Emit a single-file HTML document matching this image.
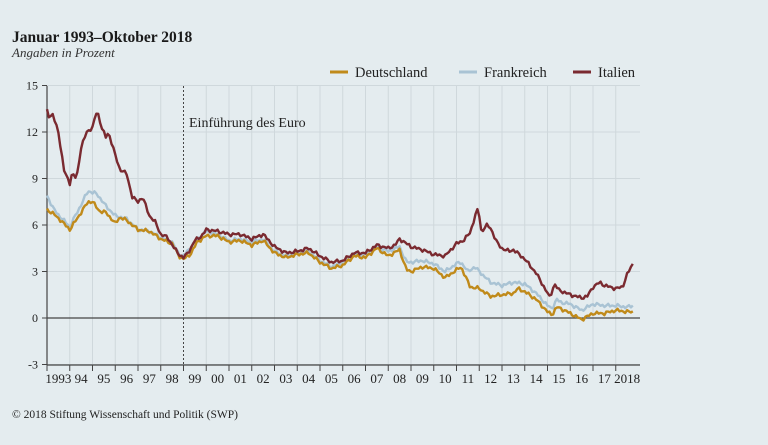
<!DOCTYPE html>
<html><head><meta charset="utf-8"><style>
html,body{margin:0;padding:0;background:#e4ecef;}
svg{display:block;font-family:"Liberation Serif",serif;}
</style></head><body>
<svg id="c" width="768" height="445" viewBox="0 0 768 445">
<rect width="768" height="445" fill="#e4ecef"/>
<text x="12" y="42" font-size="15.5" font-weight="bold" fill="#1a1a1a">Januar 1993–Oktober 2018</text>
<text x="12" y="57" font-size="13" font-style="italic" fill="#333">Angaben in Prozent</text>
<g font-size="14.5" fill="#222">
<line x1="330" y1="72" x2="348" y2="72" stroke="#c08a1a" stroke-width="3"/><text x="355" y="77">Deutschland</text>
<line x1="459" y1="72" x2="477" y2="72" stroke="#a9c3d4" stroke-width="3"/><text x="484" y="77">Frankreich</text>
<line x1="573" y1="72" x2="591" y2="72" stroke="#7a2a30" stroke-width="3"/><text x="598" y="77">Italien</text>
</g>
<g id="grid"></g>
<g id="series" fill="none" stroke-width="2.4" stroke-linejoin="round"></g>
<text x="189" y="127" font-size="14" fill="#222">Einführung des Euro</text>
<text x="12" y="418" font-size="11.5" fill="#222">© 2018 Stiftung Wissenschaft und Politik (SWP)</text>
</svg>
<script>
var NS="http://www.w3.org/2000/svg";
var X0=47,PX=22.75,Y0=318,PY=15.5;
function X(t){return X0+(t-1993)*PX;}function Y(v){return Y0-v*PY;}
function el(p,tag,a,txt){var e=document.createElementNS(NS,tag);for(var k in a)e.setAttribute(k,a[k]);if(txt!=null)e.textContent=txt;p.appendChild(e);return e;}
var g=document.getElementById('grid');
for(var y=1994;y<=2018;y++){el(g,'line',{x1:X(y),y1:86,x2:X(y),y2:365,stroke:y==1999?'none':'#cfd8dc','stroke-width':1});}
for(var v=-3;v<=15;v+=3){el(g,'line',{x1:X0,y1:Y(v),x2:640,y2:Y(v),stroke:v==0?'#444':'#cfd8dc','stroke-width':v==0?1.2:1});
el(g,'line',{x1:X0-5,y1:Y(v),x2:X0,y2:Y(v),stroke:'#444'});
el(g,'text',{x:X0-9,y:Y(v)+4,'text-anchor':'end','font-size':12,fill:'#222'},v);}
el(g,'line',{x1:X(1999),y1:86,x2:X(1999),y2:365,stroke:'#444','stroke-dasharray':'2,2'});
el(g,'line',{x1:X0,y1:86,x2:X0,y2:365,stroke:'#444','stroke-width':1.2});
el(g,'line',{x1:X0,y1:365,x2:640,y2:365,stroke:'#444','stroke-width':1.2});
var labs=['1993','94','95','96','97','98','99','00','01','02','03','04','05','06','07','08','09','10','11','12','13','14','15','16','17','2018'];
for(var i=0;i<=25;i++){var xx=X(1993+i);el(g,'line',{x1:xx,y1:365,x2:xx,y2:371,stroke:'#444'});
el(g,'text',{x:xx+PX/2,y:383,'text-anchor':'middle','font-size':13,fill:'#222'},labs[i]);}
var D={
it:[93.0,13.4,93.1,13.0,93.25,13.1,93.5,12,93.75,9.5,94.0,8.7,94.1,9.3,94.3,9.0,94.5,11,94.75,12,95.0,12.3,95.2,13.4,95.4,12.3,95.6,11.6,95.7,12,96.0,10.5,96.2,9.6,96.5,9.3,96.75,7.8,97.0,7.5,97.2,7.8,97.5,6.6,97.75,6.2,98.0,5.4,98.3,5.2,98.6,4.5,98.8,4.1,99.0,3.9,99.2,4.2,99.5,5.0,99.8,5.3,100.0,5.7,100.5,5.6,101,5.4,101.5,5.4,102,5.1,102.5,5.4,103,4.6,103.5,4.2,104,4.3,104.5,4.5,105,4.0,105.5,3.6,106,3.7,106.5,4.2,107,4.2,107.5,4.7,108,4.5,108.3,4.7,108.5,5.1,109,4.6,109.5,4.4,110,4.1,110.5,4.0,110.75,4.4,111.0,4.8,111.3,5.0,111.6,5.5,111.9,7.0,112.0,6.6,112.1,5.5,112.3,6.0,112.5,5.8,112.8,4.8,113.0,4.5,113.3,4.3,113.5,4.4,114,3.8,114.5,2.9,115,1.6,115.1,1.3,115.3,2.2,115.5,1.8,116,1.5,116.5,1.3,116.75,1.4,117,2.0,117.3,2.3,117.5,2.1,118,1.9,118.3,2.0,118.5,2.8,118.75,3.5],
fr:[93.0,7.9,93.3,7.0,93.6,6.5,94.0,5.9,94.5,7.3,94.8,8.2,95.2,8.0,95.6,7.2,96.0,6.6,96.5,6.4,97,5.7,97.5,5.6,98,5.2,98.5,4.9,98.8,4.1,99.0,4.0,99.5,4.9,100.0,5.6,100.5,5.4,101,5.0,101.5,5.1,102,4.9,102.5,5.1,103,4.3,103.5,4.0,104,4.2,104.5,4.3,105,3.7,105.5,3.3,106,3.6,106.5,4.1,107,4.1,107.5,4.6,108,4.3,108.5,4.6,108.8,3.6,109,3.6,109.5,3.7,110,3.5,110.5,3.0,111,3.5,111.2,3.6,111.5,3.0,111.8,3.3,112.0,3.0,112.5,2.3,113,2.1,113.5,2.3,114,2.2,114.5,1.6,115,0.8,115.2,0.6,115.4,1.2,115.6,1.0,116,0.9,116.5,0.5,117,0.9,117.5,0.8,118,0.8,118.5,0.7,118.75,0.8],
de:[93.0,7.0,93.3,6.7,93.6,6.3,94.0,5.7,94.5,6.8,94.8,7.5,95.0,7.5,95.3,6.9,95.6,6.8,96.0,6.1,96.2,6.5,96.5,6.3,97.0,5.7,97.5,5.6,98.0,5.1,98.5,4.8,98.8,4.0,99.0,3.8,99.3,4.1,99.6,4.9,100.0,5.3,100.5,5.3,101,4.9,101.5,5.0,102,4.7,102.5,5.0,103,4.2,103.5,3.9,104,4.1,104.5,4.2,105,3.6,105.5,3.2,106,3.4,106.5,4.0,107,3.9,107.5,4.5,108,4.0,108.5,4.4,108.8,3.1,109.0,3.0,109.5,3.3,110,3.2,110.5,2.6,111,3.1,111.2,3.3,111.6,2.0,112.0,1.9,112.5,1.4,113,1.5,113.5,1.6,113.7,1.9,114,1.7,114.5,1.2,115,0.4,115.2,0.2,115.4,0.7,115.6,0.6,116,0.3,116.5,-0.1,116.75,0.1,117,0.3,117.5,0.3,118,0.5,118.5,0.4,118.75,0.4]};
var cols={it:'#7a2a30',fr:'#a9c3d4',de:'#c08a1a'};
var s=document.getElementById('series');
['fr','de','it'].forEach(function(k,ki){var a=D[k],pts=[];
for(var m=0;m<=309;m++){var t=93+m/12,j=0;while(j<a.length-4&&a[j+2]<t)j+=2;
var t0=a[j],t1=a[j+2],v0=a[j+1],v1=a[j+3];var f=t1>t0?Math.min(1,Math.max(0,(t-t0)/(t1-t0))):0;
var v=v0+(v1-v0)*f+0.08*Math.sin(m*2.3+ki)+0.05*Math.sin(m*5.1);
pts.push(X(1900+t).toFixed(1)+','+Y(v).toFixed(1));}
el(s,'polyline',{points:pts.join(' '),stroke:cols[k]});});
</script>
</body></html>
